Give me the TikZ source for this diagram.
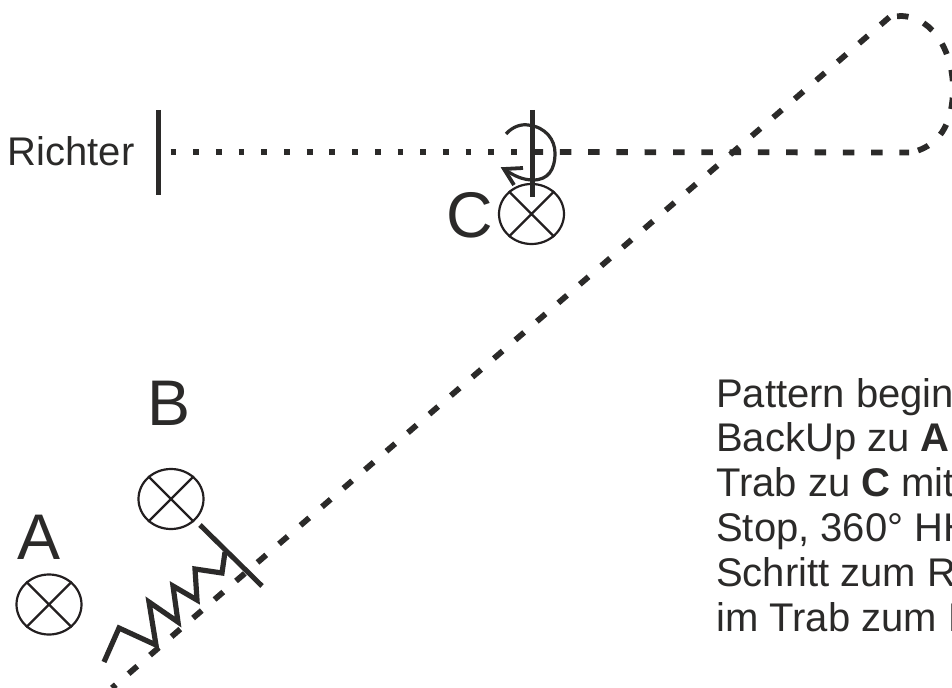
\documentclass[tikz,border=0pt]{standalone}
\usepackage{fontspec}
\setmainfont{Liberation Sans}
\usetikzlibrary{shapes.geometric}
\definecolor{ink}{HTML}{2B2A29}
\definecolor{inkb}{HTML}{231F20}
\tikzset{
  marker/.style={draw=inkb,shape=ellipse,line width=2.2bp,minimum width=65bp,minimum height=60bp,inner sep=0pt},
  crossline/.style={draw=inkb,line width=2.2bp},
  bigletter/.style={anchor=base west,inner sep=0pt,text=ink,font=\fontsize{64.5bp}{64.5bp}\selectfont},
  smalltext/.style={anchor=base west,inner sep=0pt,text=ink,font=\fontsize{40bp}{44.8bp}\selectfont},
  dashline/.style={draw=ink,line width=5.8bp,dash pattern=on 11.5bp off 16.88bp},
  dashhoriz/.style={draw=ink,line width=5.8bp,dash pattern=on 11.5bp off 16.8bp},
  dashloop/.style={draw=ink,line width=5.8bp,dash pattern=on 11.5bp off 16.4bp},
  dotline/.style={draw=ink,line width=5.8bp,dash pattern=on 5.8bp off 16.9bp},
  post/.style={draw=ink,line width=5bp},
  zigzag/.style={draw=ink,line width=5.2bp,miter limit=10},
  turnline/.style={draw=ink,line width=3.2bp}
}
\begin{document}
\begin{tikzpicture}[x=1bp,y=-1bp]
\useasboundingbox (0,0) rectangle (952,688);
\begin{scope}
\clip (0,0) rectangle (952,688);
% coordinates
\coordinate (jt) at (158,110);
\coordinate (jb) at (158,195);
\coordinate (ct) at (532,110);
\coordinate (cb) at (532,197);
\coordinate (dotstart) at (170.5,152);
\coordinate (dotend) at (520,152);
\coordinate (dashstart) at (531.5,152);
\coordinate (horizend) at (909,152.5);
\coordinate (loopin) at (918,150.5);
\coordinate (loopright) at (953,88);
\coordinate (looptop) at (901,16);
\coordinate (loopend) at (895,16.5);
\coordinate (diagstart) at (889.35,17.24);
\coordinate (lineend) at (112,688);
\coordinate (bt) at (200,525);
\coordinate (bb) at (262,586);
% labels
\node[smalltext] (richter) at (7.5,165.5) {Richter};
\node[bigletter] (la) at (17,559) {A};
\node[bigletter] (lb) at (147,425) {B};
\node[bigletter] (lc) at (446,237) {C};
\node[smalltext] (t1) at (716,407) {Pattern begin};
\node[smalltext] (t2) at (716,451.8) {BackUp zu \textbf{A}};
\node[smalltext] (t3) at (716,496.6) {Trab zu \textbf{C} mit};
\node[smalltext] (t4) at (716,541.4) {Stop, 360° HH};
\node[smalltext] (t5) at (716,586.2) {Schritt zum R};
\node[smalltext] (t6) at (716,631) {im Trab zum H};
% markers
\foreach \n/\x/\y in {ma/49/604.5,mb/171/499,mc/531.5/214}{
  \node[marker] (\n) at (\x,\y) {};
  \draw[crossline] (\n.135) -- (\n.-45) (\n.45) -- (\n.-135);
}
% route
\draw[dotline] (dotstart) -- (dotend);
\draw[dashhoriz] (dashstart) -- (horizend);
\draw[dashloop] (loopin)
  .. controls (948,140) and (953,110) .. (loopright)
  .. controls (953,55) and (935,17) .. (looptop) -- (loopend);
\draw[dashline] (diagstart) -- (lineend);
% posts
\draw[post] (jt) -- (jb);
\draw[post] (ct) -- (cb);
\draw[post] (bt) -- (bb);
% turn
\coordinate (ts) at (506,134);
\coordinate (tt) at (504,169);
\draw[turnline] (ts) .. controls (513,126) and (522,124) .. (528,125)
  .. controls (546,127) and (555,140) .. (555,153)
  .. controls (555,170) and (548,180) .. (533,180)
  .. controls (523,180) and (514,176) .. (tt);
\draw[turnline,line width=3.8bp] (523,168) -- (tt) -- (514,185);
% zigzag
\draw[zigzag] (104,662) -- (119,628) -- (156,645) -- (149,602) -- (178,622) -- (173,586) -- (197,600) -- (195,569) -- (222,573) -- (225,552);
\end{scope}
\end{tikzpicture}
\end{document}
